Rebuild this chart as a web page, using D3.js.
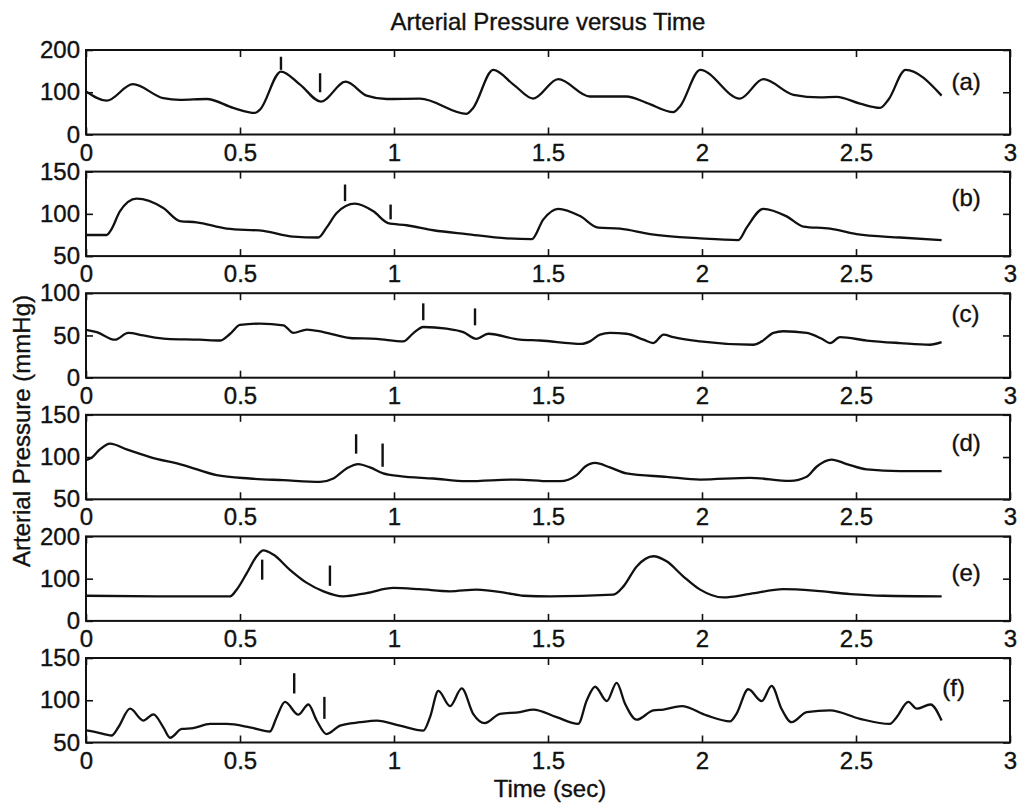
<!DOCTYPE html>
<html>
<head>
<meta charset="utf-8">
<script src="https://cdn.jsdelivr.net/npm/d3@7"></script>
<style>
  body { margin: 0; background: #fff; }
  svg text { font-family: "Liberation Sans", Arial, Helvetica, sans-serif; fill: #111; stroke: #111; stroke-width: 0.35px; }
</style>
</head>
<body>
<svg id="chart" width="1025" height="805"></svg>
<script>
// ---- Recorded arterial pressure traces (time in s, pressure in mmHg) ----
const timeA = [0, 0.067, 0.152, 0.251, 0.305, 0.392, 0.478, 0.549, 0.565, 0.633, 0.695, 0.763, 0.843, 0.911, 0.976, 1.084, 1.236, 1.257, 1.322, 1.39, 1.452, 1.533, 1.636, 1.755, 1.82, 1.907, 1.929, 1.994, 2.123, 2.199, 2.297, 2.383, 2.437, 2.513, 2.578, 2.605, 2.661, 2.778];
const pressureA = [102, 80, 119, 86, 82, 84, 63, 51, 59, 149, 118, 78, 125, 92, 84, 85, 49, 63, 153, 117, 85, 131, 90, 90, 75, 53, 67, 153, 85, 131, 94, 88, 89, 73, 63, 82, 153, 92];

const timeB = [0, 0.067, 0.083, 0.110, 0.164, 0.251, 0.305, 0.359, 0.457, 0.576, 0.673, 0.754, 0.781, 0.814, 0.873, 0.933, 0.981, 1.041, 1.128, 1.236, 1.366, 1.447, 1.485, 1.533, 1.604, 1.663, 1.734, 1.831, 1.994, 2.118, 2.145, 2.199, 2.275, 2.329, 2.416, 2.502, 2.643, 2.778];
const pressureB = [75, 75, 82, 103, 118, 107, 91.5, 90, 82.5, 79.8, 73, 72, 83.7, 101, 112, 103, 89, 86.5, 80.6, 76, 71, 70, 93.5, 106, 97.4, 83.7, 82.5, 76, 71, 69, 83.7, 106, 97, 85, 82.5, 76, 72, 69];

const timeC = [0, 0.035, 0.094, 0.137, 0.186, 0.262, 0.370, 0.435, 0.468, 0.5, 0.565, 0.641, 0.673, 0.717, 0.771, 0.857, 0.944, 1.03, 1.063, 1.095, 1.171, 1.225, 1.268, 1.306, 1.409, 1.474, 1.609, 1.636, 1.669, 1.701, 1.755, 1.810, 1.842, 1.875, 1.907, 1.994, 2.167, 2.194, 2.232, 2.264, 2.340, 2.389, 2.416, 2.448, 2.535, 2.643, 2.740, 2.778];
const pressureC = [56.7, 54, 45, 53, 50, 46, 45, 44, 52, 62.5, 64, 62, 53, 57, 54, 47, 46, 43, 52.8, 60, 58, 54, 46, 52, 45, 44, 40, 43, 51, 53, 52, 45, 41, 51, 48, 43, 39, 43, 53, 55, 53, 46, 41, 48, 44, 41, 39, 42];

const timeD = [0, 0.018, 0.045, 0.078, 0.132, 0.208, 0.316, 0.424, 0.532, 0.641, 0.760, 0.803, 0.846, 0.884, 0.922, 0.965, 1.019, 1.128, 1.236, 1.398, 1.506, 1.539, 1.593, 1.620, 1.653, 1.701, 1.755, 1.885, 1.994, 2.156, 2.286, 2.340, 2.372, 2.421, 2.470, 2.535, 2.643, 2.778];
const pressureD = [96.4, 99, 109, 116, 109, 100, 90.5, 78.6, 74.6, 72.6, 70.6, 74.6, 86.5, 91.7, 87.7, 80.6, 77.4, 74.6, 71.4, 73.4, 71.4, 71.4, 78.6, 88.5, 93, 87.7, 80.6, 76.6, 73.4, 75.4, 71.8, 76.6, 88.5, 97, 91.7, 85.3, 83.3, 83.3];

const timeE = [0, 0.262, 0.468, 0.489, 0.522, 0.554, 0.576, 0.608, 0.662, 0.717, 0.771, 0.835, 0.911, 0.998, 1.084, 1.182, 1.268, 1.366, 1.42, 1.506, 1.712, 1.745, 1.788, 1.842, 1.885, 1.939, 1.994, 2.069, 2.156, 2.264, 2.372, 2.481, 2.589, 2.778];
const pressureE = [59.5, 58, 58, 73.8, 113, 153, 166.7, 157, 121, 90, 70, 58, 66, 78, 75, 70, 74, 66, 59.5, 58, 62, 81.7, 129, 153, 141, 105.6, 74, 55.6, 64, 75, 71, 63.5, 59.5, 58];

const timeF = [0, 0.035, 0.083, 0.105, 0.143, 0.186, 0.219, 0.251, 0.273, 0.311, 0.348, 0.403, 0.457, 0.532, 0.597, 0.619, 0.646, 0.689, 0.722, 0.749, 0.781, 0.825, 0.890, 0.944, 1.019, 1.095, 1.117, 1.144, 1.182, 1.220, 1.257, 1.295, 1.344, 1.409, 1.452, 1.528, 1.598, 1.626, 1.653, 1.691, 1.723, 1.750, 1.788, 1.842, 1.875, 1.934, 2.015, 2.091, 2.112, 2.150, 2.194, 2.226, 2.258, 2.291, 2.340, 2.416, 2.513, 2.610, 2.632, 2.670, 2.697, 2.742, 2.778];
const pressureF = [64.3, 62, 58.3, 68, 90, 76, 83.3, 68, 55.6, 66, 67, 72, 72, 68, 63, 80, 98, 83, 95, 76, 60, 70, 74, 76, 70, 64, 80, 111, 93, 114, 84, 73, 84, 86, 89, 80, 72, 100, 116, 99, 120.6, 96, 77, 88, 89, 93, 82, 75, 84, 113, 99, 117, 90, 74, 86, 88, 78, 72, 80, 98, 90, 95, 76];

// Event markers: time of each marker and the pressure span it covers [low, high]
const markTimesA = [0.633, 0.760], markSpansA = [[153, 184], [100, 145]];
const markTimesB = [0.841, 0.989], markSpansB = [[115, 134.7], [93.5, 111]];
const markTimesC = [1.095, 1.263], markSpansC = [[68, 88], [62, 82]];
const markTimesD = [0.877, 0.963], markSpansD = [[104, 127], [88.5, 116]];
const markTimesE = [0.572, 0.792], markSpansE = [[97.6, 145], [83, 131]];
const markTimesF = [0.676, 0.774], markSpansF = [[108, 132], [78, 104]];

// Axis ticks
const xTicks = [0, 0.5, 1, 1.5, 2, 2.5, 3];
const xTickLabels = ["0", "0.5", "1", "1.5", "2", "2.5", "3"];
const yTicksA = [0, 100, 200];
const yTicksB = [50, 100, 150];
const yTicksC = [0, 50, 100];
const yTicksD = [50, 100, 150];
const yTicksE = [0, 100, 200];
const yTicksF = [50, 100, 150];

const panelTags = ["(a)", "(b)", "(c)", "(d)", "(e)", "(f)"];

const panels = [
  { tag: panelTags[0], t: timeA, p: pressureA, yTicks: yTicksA, mt: markTimesA, ms: markSpansA },
  { tag: panelTags[1], t: timeB, p: pressureB, yTicks: yTicksB, mt: markTimesB, ms: markSpansB },
  { tag: panelTags[2], t: timeC, p: pressureC, yTicks: yTicksC, mt: markTimesC, ms: markSpansC },
  { tag: panelTags[3], t: timeD, p: pressureD, yTicks: yTicksD, mt: markTimesD, ms: markSpansD },
  { tag: panelTags[4], t: timeE, p: pressureE, yTicks: yTicksE, mt: markTimesE, ms: markSpansE },
  { tag: panelTags[5], t: timeF, p: pressureF, yTicks: yTicksF, mt: markTimesF, ms: markSpansF }
];

// ---- Layout ----
const left = 86, right = 1010;
const firstTop = 50, step = 121.6, panelH = 84.5;
const tickLen = 7;
const fontSize = 24;
// where each panel tag sits, in [time, pressure] units
const tagAnchor = [[2.81, 125], [2.81, 119], [2.81, 76], [2.81, 117], [2.81, 114], [2.78, 115]];

const svg = d3.select("#chart");
const x = d3.scaleLinear().domain([0, 3]).range([left, right]);

svg.append("text")
  .attr("x", (left + right) / 2).attr("y", 30)
  .attr("text-anchor", "middle")
  .style("font-size", fontSize + "px")
  .text("Arterial Pressure versus Time");

panels.forEach((pn, i) => {
  const top = firstTop + i * step;
  const bottom = top + panelH;
  const yd = d3.extent(pn.yTicks);
  const y = d3.scaleLinear().domain(yd).range([bottom, top]);
  const g = svg.append("g");

  const styleAxis = sel => {
    sel.select(".domain").remove();
    sel.selectAll(".tick line").attr("stroke", "#111").attr("stroke-width", 1.6);
    sel.selectAll(".tick text").style("font-size", fontSize + "px").attr("fill", "#111");
  };

  g.append("g").attr("transform", `translate(0,${bottom})`)
    .call(d3.axisBottom(x).tickValues(xTicks).tickFormat((d, k) => xTickLabels[k])
      .tickSizeInner(-tickLen).tickSizeOuter(0).tickPadding(9))
    .call(styleAxis);
  g.append("g").attr("transform", `translate(0,${top})`)
    .call(d3.axisTop(x).tickValues(xTicks).tickFormat("")
      .tickSizeInner(-tickLen).tickSizeOuter(0))
    .call(styleAxis);
  g.append("g").attr("transform", `translate(${left},0)`)
    .call(d3.axisLeft(y).tickValues(pn.yTicks).tickFormat(d3.format("d"))
      .tickSizeInner(-tickLen).tickSizeOuter(0).tickPadding(6))
    .call(styleAxis);
  g.append("g").attr("transform", `translate(${right},0)`)
    .call(d3.axisRight(y).tickValues(pn.yTicks).tickFormat("")
      .tickSizeInner(-tickLen).tickSizeOuter(0))
    .call(styleAxis);

  // box
  g.append("rect")
    .attr("x", left).attr("y", top)
    .attr("width", right - left).attr("height", bottom - top)
    .attr("fill", "none").attr("stroke", "#111").attr("stroke-width", 2);

  // pressure trace
  const pts = pn.t.map((t, k) => [t, pn.p[k]]);
  g.append("path")
    .datum(pts)
    .attr("fill", "none").attr("stroke", "#111").attr("stroke-width", 2.3)
    .attr("stroke-linejoin", "round")
    .attr("d", d3.line().x(d => x(d[0])).y(d => y(d[1])).curve(d3.curveMonotoneX));

  // event markers
  g.selectAll("line.mark").data(pn.mt).join("line")
    .attr("class", "mark")
    .attr("x1", d => x(d)).attr("x2", d => x(d))
    .attr("y1", (d, k) => y(pn.ms[k][0])).attr("y2", (d, k) => y(pn.ms[k][1]))
    .attr("stroke", "#111").attr("stroke-width", 2.4);

  // panel tag
  g.append("text")
    .attr("x", x(tagAnchor[i][0])).attr("y", y(tagAnchor[i][1]))
    .attr("dy", "0.35em")
    .style("font-size", fontSize + "px")
    .text(pn.tag);
});

svg.append("text")
  .attr("x", 550).attr("y", 797)
  .attr("text-anchor", "middle")
  .style("font-size", fontSize + "px")
  .text("Time (sec)");

svg.append("text")
  .attr("transform", "translate(30,431) rotate(-90)")
  .attr("text-anchor", "middle")
  .style("font-size", fontSize + "px")
  .text("Arterial Pressure (mmHg)");
</script>
</body>
</html>
